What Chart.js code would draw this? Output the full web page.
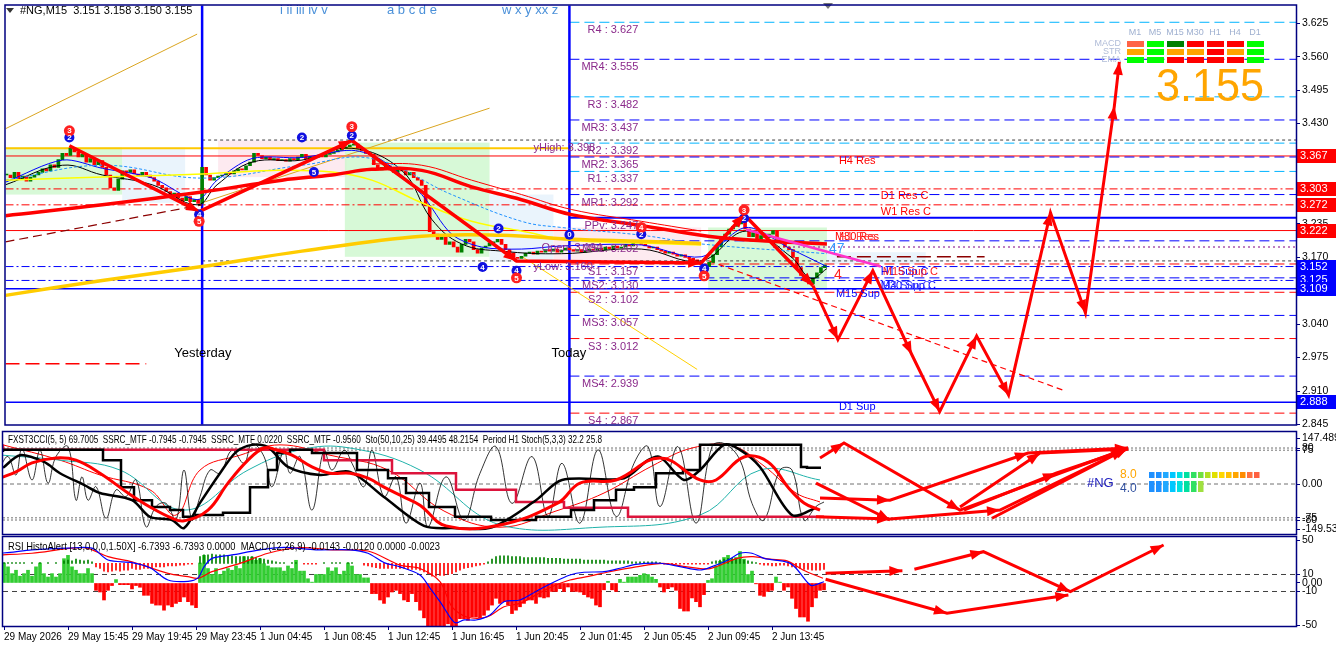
<!DOCTYPE html>
<html>
<head>
<meta charset="utf-8">
<title>#NG,M15</title>
<script src="https://cdn.jsdelivr.net/npm/chart.js@4.4.1/dist/chart.umd.min.js"></script>
<style>
  html, body { margin:0; padding:0; background:#fff; }
  body { width:1336px; height:653px; position:relative; overflow:hidden; }
  canvas { position:absolute; left:0; }
</style>
</head>
<body>
<canvas id="priceChart" width="1336" height="430" style="top:0"></canvas>
<canvas id="cciChart" width="1336" height="106" style="top:430px"></canvas>
<canvas id="rsiChart" width="1336" height="118" style="top:535px"></canvas>
<script>
// ---------- values (bar index = 15 min candle) ----------
const closes = [
  3.330,3.325,3.335,3.322,3.328,3.318,3.326,3.330,
  3.335,3.342,3.338,3.350,3.345,3.360,3.372,3.368,3.382,
  3.375,3.365,3.370,3.355,3.362,3.350,3.358,3.345,
  3.330,3.305,3.300,3.322,3.338,
  3.335,3.340,3.332,3.328,3.335,3.330,3.325,3.318,3.310,
  3.305,3.298,3.292,3.295,3.285,3.280,3.288,3.278,3.282,3.275,
  3.345,3.330,3.320,3.325,
  3.328,3.330,3.335,3.332,3.338,3.342,3.340,3.348,3.355,
  3.372,3.368,3.362,3.365,3.360,3.362,3.358,3.360,3.357,
  3.362,3.360,3.365,3.370,3.362,3.366,3.364,3.368,3.365,3.370,3.372,3.375,
  3.378,3.382,3.385,3.388,3.390,
  3.382,3.378,3.372,3.370,
  3.350,3.340,3.345,
  3.348,3.340,3.335,3.342,3.338,3.330,3.335,3.325,3.320,
  3.310,3.270,3.220,
  3.215,3.205,3.210,3.195,3.200,3.190,3.180,
  3.195,3.205,3.200,3.185,3.178,
  3.188,3.192,3.198,3.200,3.205,
  3.195,3.185,3.178,3.170,3.168,
  3.172,3.178,3.180,3.176,3.182,3.180,3.185,3.182,3.186,3.180,3.184,3.188,3.185,
  3.182,3.185,3.180,3.183,3.186,3.184,3.188,3.185,3.190,3.187,3.192,3.188,3.190,3.195,3.192,3.198,3.200,
  3.195,3.192,3.188,3.190,3.185,3.182,3.178,3.180,3.176,3.172,3.175,3.170,3.168,3.165,3.160,
  3.155,3.152,3.160,3.175,
  3.190,3.205,3.215,3.225,3.230,3.235,3.240,
  3.225,3.210,3.218,3.205,3.212,3.208,3.215,3.222,3.205,3.198,3.190,3.185,
  3.170,3.150,3.135,3.125,3.118,3.130,
  3.140,3.150,3.155
];

const timeTickBars = [0,16,32,48,64,80,96,112,128,144,160,176,192];
const timeLabels = ['29 May 2026','29 May 15:45','29 May 19:45','29 May 23:45','1 Jun 04:45','1 Jun 08:45',
  '1 Jun 12:45','1 Jun 16:45','1 Jun 20:45','2 Jun 01:45','2 Jun 05:45','2 Jun 09:45','2 Jun 13:45'];
const priceTicks = [3.625,3.560,3.495,3.430,3.365,3.300,3.235,3.170,3.105,3.040,2.975,2.910,2.845];

const pivotNames  = ['R4','MR4','R3','MR3','R2','MR2','R1','MR1','PPv','MS1','S1','MS2','S2','MS3','S3','MS4','S4'];
const pivotValues = [3.627,3.555,3.482,3.437,3.392,3.365,3.337,3.292,3.247,3.202,3.157,3.130,3.102,3.057,3.012,2.939,2.867];

const levelValues = [3.367,3.303,3.272,3.222,3.152,3.125,3.109,2.888];
const levelKinds  = ['red','redDot','redDot','red','blueDot','blueDot','blue','blue'];

const yHighValue = 3.398, yHighGold = 3.382, yLowValue = 3.163;

const zigzagPath   = [[15.75,3.387],[48.25,3.259],[86.5,3.397],[127.75,3.163],[174,3.159],[184.75,3.253],[202,3.115]];
const forecastPath = [[202,3.115],[208.25,3.010],[217,3.144],[226.75,2.981],[233.75,2.870],[243,3.017],
                      [251,2.902],[261.5,3.257],[270.25,3.062],[277.5,3.464],[278.75,3.550]];

const redMa     = [[-0.25,3.251],[24,3.272],[49,3.297],[69,3.320],[81.5,3.330],[91.5,3.341],[104,3.339],[116.5,3.307],
                   [129,3.282],[141.5,3.253],[159,3.232],[175.75,3.211],[191.5,3.201],[205.5,3.196]];
const redMaThin = [[91.5,3.352],[104,3.349],[116.5,3.320],[129,3.292],[141.5,3.263],[159,3.240],[174,3.221]];
const goldMa    = [[-0.25,3.096],[24,3.125],[49,3.152],[74,3.182],[104,3.211],[124,3.213],[141.5,3.205],[159,3.201],[174,3.197]];
const yellowMa  = [[-0.25,3.320],[24,3.326],[49,3.332],[66.5,3.339],[81.5,3.336],[91.5,3.320],[104,3.276],
                   [116.5,3.240],[129,3.221],[141.5,3.203],[159,3.198],[174,3.194]];
const blueMa    = [[-0.25,3.316],[14,3.359],[24,3.343],[36.5,3.324],[47.75,3.282],[52.75,3.320],[61.5,3.362],[74,3.364],
                   [86.5,3.378],[94,3.359],[104,3.292],[111.5,3.215],[119,3.190],[129,3.186],[139,3.192],[159,3.194],
                   [174,3.171],[185.25,3.228],[196.5,3.186],[205.5,3.152]];
const skyMa     = [[-0.25,3.320],[24,3.349],[49,3.324],[74,3.349],[91.5,3.362],[111.5,3.292],[129,3.240],[139,3.228],
                   [159,3.213],[174,3.196],[205.5,3.177]];
const blackMa   = [[-0.25,3.311],[14,3.349],[24,3.330],[36.5,3.311],[47.75,3.272],[52.75,3.311],[61.5,3.355],[74,3.359],
                   [86.5,3.382],[99,3.339],[106.5,3.244],[114,3.196],[124,3.182],[139,3.177],[159,3.186],[174,3.163],
                   [185.25,3.221],[196.5,3.171],[201.5,3.129],[205.5,3.148]];
const orangeTrend1 = [[-0.25,3.420],[47.75,3.604]];
const orangeTrend2 = [[49,3.276],[121,3.460]];
const yellowTrend  = [[129,3.172],[173,2.952]];
const brownTrend   = [[-0.25,3.200],[49,3.272]];
const redChannel   = [[176,3.163],[265.25,2.910]];
const magentaLine  = [[185.25,3.224],[219,3.152]];

const zones = [ // bar from, bar to, price top, price bottom, kind
  [-0.25,29,3.384,3.292,'g'],[29,44.75,3.384,3.276,'b'],[53,85.25,3.397,3.326,'p'],[84.75,121,3.393,3.171,'g'],
  [121,137,3.292,3.161,'b'],[137,174,3.228,3.163,'p'],[175.75,205.5,3.228,3.106,'g'],[205.5,230.25,3.180,3.157,'b']
];

const redMarks  = [[15.75,3.416,'3'],[48.25,3.240,'5'],[86.5,3.424,'3'],[127.75,3.130,'5'],[159,3.228,'4'],
                   [184.75,3.262,'3'],[174.75,3.134,'5']];
const blueMarks = [[15.75,3.403,'2'],[74,3.403,'2'],[86.5,3.407,'2'],[77,3.336,'5'],[48.25,3.253,'4'],[123.25,3.226,'2'],
                   [119.25,3.151,'4'],[127.75,3.144,'4'],[141,3.214,'0'],[159,3.215,'2'],[184.75,3.246,'2'],[174.75,3.148,'4']];
const blueUps   = [[177,3.161],[204.75,3.132]];
const greenUps  = [[145.75,3.177],[149.75,3.157]];

// ---- FXST3CCI / SSRC / Sto panel ----
const cciFast = [[-1,38],[1,61],[3,20],[4.5,79],[7,9],[9,75],[11,2],[13,61],[16,83],[18,-36],[19.5,16],[21,-36],[23,-6],
  [25.5,-76],[28,-13],[30.5,-28],[33,9],[35.5,-95],[38,-50],[40.5,-43],[43,-80],[45,31],[47,-80],[49,-28],[51.5,31],[54,24],
  [57,75],[60,46],[62,90],[65,61],[67,-6],[70,75],[71.5,24],[74,61],[77,-58],[80,75],[82,31],[85,75],[87,46],[90,-6],[92,75],
  [95,-28],[98,16],[100.5,-87],[104,2],[106,-95],[110.5,16],[115,-80],[119,24],[123,83],[127,-43],[132,61],[136,-72],
  [139.5,46],[144,-87],[148.5,76],[153,-72],[157.5,46],[161,83],[164,-50],[168.5,83],[173,-87],[177,83],[180,90],[184,53],
  [187,-43],[190,-80],[194,31],[197,31],[200,-80],[203,-50],[205,-40]];
const cciSlow = [[-0.25,36],[4,64],[10,49],[14,24],[20,-2],[24,-20],[32,-36],[36.5,-73],[42,-80],[45,-98],[49,-42],[54,24],
  [58,71],[62,87],[66,82],[71,38],[79,20],[86.5,27],[95,-29],[105,-93],[112,-98],[122,-96],[133,-36],[139.5,9],[155,13],
  [161,53],[164,60],[170,9],[174,31],[180,87],[184,76],[189,38],[197,-69],[203,-53]];
const cciStep = [[-0.25,71],[24.75,76],[29.25,53],[32.5,-7],[37,-36],[41.5,-51],[44.75,-58],[48,-73],[54.75,-69],[61.5,-64],
  [66,-7],[68.25,31],[71.5,69],[77,76],[88.25,69],[96,31],[100.5,13],[106.25,-20],[112.75,-51],[121.75,-73],[133,-80],
  [141.75,-73],[147.5,-58],[153,-36],[157.5,-13],[163,-7],[169.75,24],[174,31],[180,87],[199.25,87],[200.75,38],[204.25,36]];
const cciRed = [[-1,13],[3,27],[7,47],[13,58],[18,53],[24,24],[31,-20],[36.5,-51],[42,-76],[45,-82],[51,-58],[56,2],[61,53],
  [65,80],[68,76],[72,64],[77,38],[81.5,24],[86.5,24],[91,13],[95,-7],[100,-29],[104,-47],[110.5,-93],[124,-91],[138.5,-42],
  [144,2],[153,9],[164,58],[174,9],[178,9],[185,60],[191,49],[196,-7],[200,-42],[204,-58]];
const cciThinRed = [[-0.25,87],[14,53],[24,20],[36.5,-13],[43,-69],[49,31],[59,64],[69,87],[81.5,64],[96,31],[110,-60],
  [124,-96],[138,-60],[150,-20],[162,40],[172,80],[182,85],[190,40],[198,-20],[204,-40]];
const cciTeal = [[-0.25,64],[14,53],[29,31],[45,-58],[61,31],[74,76],[86.5,80],[104,31],[124,-91],[149,-96],[174,-69],[189,31],[204,9]];
const ssrcSteps = [[-0.25,88],[80,76],[97,53],[113,24],[128,-13],[140,-40],[156,-53],[173,-73],[205,-73]];
const cciUpArrows = [[30.25,-73],[32,-51],[44.75,-76],[47,-51],[58,-58],[122.75,-24],[145.75,-76],[149.75,-64],[154,-18],
  [173,-73],[176,-40],[176,-69],[204.75,-73]];
const cciDownArrows = [[4.75,80],[14.75,76],[20.25,76],[21.5,58],[24.75,58],[50.75,38],[68.5,53],[81,76],[89.75,69],
  [93.25,69],[97,49],[144,71],[163,71],[186.75,31],[200.75,31]];
const cciForecast = [
  [[204,58],[210,91],[239,-58],[281,80]],
  [[203,2],[221.5,-80]],
  [[203,-73],[221.5,-78],[249,-58],[281,80]],
  [[204,-31],[221.5,-36],[256,69],[281,80]],
  [[239,-51],[259,69],[281,78]],
  [[240,-58],[263,24],[281,78]],
  [[247,-76],[280,76]]
];
const cciTickVals = [102,80,75,0,-75,-80,-100];
const cciTickText = ['147.4891','80','75','0.00','-75','-80','-149.530'];

// ---- RSI HistoAlert / MACD panel ----
const histo = [
  23.5,19,11,15,8,11,15,8,19,23.5,11,7,11,7,11,28.6,32.5,19,15,11,11,17,11,
  -8.6,-10.6,-20,-8.6,-3,4,-2,-2,-2,-7,-3,-5,-14.5,-14.5,-24,-26,-26,-32,-26,-28,-24,-22,-16.5,-22,-26,-29,
  23.5,32.5,17,10,17,10,14,17,15,20,17,31,26.7,30.5,26.7,28.6,22.7,20,18,18,18,14,20,17,26.7,14,14,5,1,10,10,10,18,14,18,10,14,23.5,20,10,10,6,6,
  -12.5,-12.5,-20,-24,-16.5,-10.6,-8.6,-12.5,-20,-22,-12.5,-22,
  -32,-41,-52,-52,-52,-52,-52,-48,-52,-52,
  -42,-42,-44,-40,-40,-41,-38,-32,-26,-18,
  -24,-22,-26,-36,-32,-28,-24,-20,-20,-24,
  -16.5,-17.6,-16.5,-10,-10,-6.7,-10,-4.7,-10,-10,
  -10.6,-13.7,-16.5,-18,-26,-28,-8,2,-8,-10,
  4.3,1,7,7,7,9,11,10,7,4.3,
  -4.7,-10.6,-6.7,-4.7,-8.6,-30,-33,-33,-17.6,-22,
  -28,-13.7,3,5,20,25.5,30,32.5,28,30,
  37,28,10,14,-1,-14.5,-15.7,-10,-8.6,7,
  1,-8.6,-4.7,-18,-30,-40,-40,-45,-28,-17.6,
  -8.6,-8
];
const thinBase = 23;
const thinHisto = [
  1,1,1,1,1,1, 0,1,0,1,0,1,0,1,0, 3,4,3,5,4,3,4,2,
  -4,-6,-9,-10,-9,-8,-9,-8,-8,-6,-7,-7,-6,-6,-5,-4,-4,-4,-3,-3,-3,-2,-2,-1,-1, 0,
  8,10,10,11,10,10,10,9,9,8,8,8,8,8,7,6,5,4,3,2,
  1,1,0,1,1,0,-1,-1,-1,-1,0,1,0,1,1,1,0,1,1,0,0,
  -2,-3,-4,-5,-6,-6,-6,-6,-6,-6,-6,-7,-7,-7,
  -8,-10,-12,-15,-15,-14,-14,-13,-12,-10,-8,
  -6,-5,-4,-3,-2,-1,
  2,5,8,9,9,9,8,8,8,7,7,7,7,7,7,6,6,6,6,5,5,5,5,5,4,4,4,4,4,4,
  3,3,3,3,3,3,2,2,2,2,2,2,2,1,
  -1,-1,-1,-1,-1,-1,-1,-1,-1,-1,-1,-1,
  2,3,4,5,6,6,6,5,4,3,2,1,
  -1,-2,-2,-3,-3,-2,-2,-3,-4,-5,-6,-7,-7,-8,-8,-8,-7
];
const rsiBlue = [[-1,35],[1.5,36],[7,39],[16,41],[22,41],[26,27],[32,24],[36.5,18],[41,3.5],[46,2],[48.5,6],[50,19],[52,29],
  [57,33],[64,39],[70,42],[78,39],[86.5,39],[91,35],[95,24],[99,19],[104,9.4],[106.5,-5.9],[109,-22],[112,-43.5],[113,-47],
  [115,-43.5],[118,-43.5],[121.5,-37.6],[125,-22],[129,-20],[133,-10],[137,0],[141.5,9.4],[145,12.6],[150,13.3],[154,17.3],
  [158,22],[164,23.2],[169,19.2],[174,15.3],[177,19.2],[181,27],[184,35],[187,35],[190,29],[196,24.3],[198,17.3],[201,0],
  [202,-3],[205,1.5]];
const rsiRed = [[-1,33],[7,35],[20,41.5],[26,31],[32,25],[41,11.4],[46,7.4],[48.5,5.5],[52,13.3],[59,23],[66,35],[74,41.5],
  [82,39],[91,37.6],[99,21],[104,17],[109,1.5],[112,-28],[115.75,-40],[120.75,-40],[125,-28],[129,-24],[133,-14],[137,-4.4],
  [141.5,3.5],[145.75,7.4],[150.75,12.6],[158,19],[164.75,23],[170.75,19],[176.5,17],[183.25,29],[187.25,31],[191.5,28],
  [195.75,26],[199.75,15.3],[204.75,5.5]];
const rsiForecast = [
  [[205.4,11.4],[224.6,14.5]],
  [[227.6,16.1],[244.85,36.8],[266.6,-10.2],[289.9,44.7]],
  [[205.4,4.4],[235.75,-35.6],[266.1,-14.1]]
];
const rsiTickVals = [50,10,0,-10,-50];
const rsiTickText = ['50','10','0.00','-10','-50'];

// dashboard in the top right corner
const tfNames = ['M1','M5','M15','M30','H1','H4','D1'];
const rowNames = ['MACD','STR','EMA'];
const cellColors = [
  ['#ff6347','#00ff00','#008000','#ff0000','#ff0000','#ff0000','#00ff00'],
  ['#ffa500','#00ff00','#ffa500','#ffa500','#ff0000','#ffa500','#00ff00'],
  ['#00ff00','#00ff00','#ff0000','#ff0000','#ff0000','#ff0000','#00ff00']
];
const lastPrice = '3.155';

// ---------- helpers ----------
Chart.defaults.font.family = "'Liberation Sans', Arial, sans-serif";
Chart.defaults.font.size = 11;
Chart.defaults.color = '#000';
const FONT = "'Liberation Sans', Arial, sans-serif";
const NAVY = '#000080';

function lineDs(pts, color, width, extra) {
  return Object.assign({
    type: 'line', data: pts.map(p => ({ x: p[0], y: p[1] })), borderColor: color, borderWidth: width,
    pointRadius: 0, fill: false, tension: 0, order: 10
  }, extra || {});
}
function hLine(v, from, to, color, width, dash, order) {
  return lineDs([[from, v], [to, v]], color, width, { borderDash: dash || [], order: order || 30 });
}
// stop Chart.js from shrinking the plot to make room for the edge labels
function noEdgePadding(s) { s.paddingTop = 0; s.paddingBottom = 0; s.paddingLeft = 0; s.paddingRight = 0; }
function xAxis(show) {
  return {
    type: 'linear', min: -0.25, max: 323, display: show, offset: false,
    afterFit: s => { if (show) s.height = 26; noEdgePadding(s); },
    afterBuildTicks: s => { s.ticks = timeTickBars.map(v => ({ value: v })); },
    grid: { drawOnChartArea: false, tickLength: 4, color: NAVY, offset: false }, border: { color: NAVY },
    ticks: { autoSkip: false, maxRotation: 0, align: 'start', padding: 1, color: '#000', font: { size: 10 },
             callback: (v, i) => timeLabels[i] }
  };
}
function yAxis(min, max, vals, texts) {
  return {
    position: 'right', min: min, max: max,
    afterFit: s => { s.width = 40; noEdgePadding(s); },
    afterBuildTicks: s => { s.ticks = vals.map(v => ({ value: v })); },
    grid: { drawOnChartArea: false, tickLength: 4, color: NAVY }, border: { color: NAVY },
    ticks: { autoSkip: false, padding: 2, color: '#000', font: { size: 10.5 }, callback: (v, i) => texts ? texts[i] : v.toFixed(3) }
  };
}
function arrowImg(color, up) {
  const c = document.createElement('canvas');
  c.width = 9; c.height = 13;
  const g = c.getContext('2d');
  g.fillStyle = color; g.strokeStyle = color; g.lineWidth = 2;
  g.beginPath();
  if (up) { g.moveTo(4.5, 0); g.lineTo(9, 6); g.lineTo(0, 6); } else { g.moveTo(4.5, 13); g.lineTo(9, 7); g.lineTo(0, 7); }
  g.closePath(); g.fill();
  g.beginPath(); g.moveTo(4.5, up ? 5 : 1); g.lineTo(4.5, up ? 13 : 8); g.stroke();
  return c;
}
function drawHead(ctx, a, b, color, len) {
  const ang = Math.atan2(b.y - a.y, b.x - a.x);
  ctx.fillStyle = color;
  ctx.beginPath();
  ctx.moveTo(b.x, b.y);
  ctx.lineTo(b.x - len * Math.cos(ang) + 5 * Math.sin(ang), b.y - len * Math.sin(ang) - 5 * Math.cos(ang));
  ctx.lineTo(b.x - len * Math.cos(ang) - 5 * Math.sin(ang), b.y - len * Math.sin(ang) + 5 * Math.cos(ang));
  ctx.closePath(); ctx.fill();
}
function fitText(ctx, text, x, y, maxW) {
  const w = ctx.measureText(text).width;
  if (w > maxW) { ctx.save(); ctx.translate(x, y); ctx.scale(maxW / w, 1); ctx.fillText(text, 0, 0); ctx.restore(); }
  else ctx.fillText(text, x, y);
}
function text(ctx, s, x, y, color, size, align, weight) {
  ctx.font = (weight || '') + ' ' + size + 'px ' + FONT;
  ctx.fillStyle = color; ctx.textAlign = align || 'left'; ctx.textBaseline = 'middle';
  ctx.fillText(s, x, y);
}

const arrowPlugin = {
  id: 'arrowHeads',
  afterDatasetsDraw(chart) {
    const ctx = chart.ctx, a = chart.chartArea;
    ctx.save(); ctx.beginPath(); ctx.rect(a.left, a.top, a.width, a.height); ctx.clip();
    chart.data.datasets.forEach((ds, i) => {
      if (!ds.arrowHeads) return;
      const pts = chart.getDatasetMeta(i).data;
      for (let j = 1; j < pts.length; j++) drawHead(ctx, pts[j - 1], pts[j], ds.borderColor, 13);
    });
    ctx.restore();
  }
};
const framePlugin = {
  id: 'frame',
  afterDraw(chart) {
    const ctx = chart.ctx, a = chart.chartArea;
    ctx.save(); ctx.strokeStyle = NAVY; ctx.lineWidth = 1.5;
    ctx.strokeRect(a.left - 0.5, a.top - 0.5, a.width + 1, a.height + 1);
    ctx.restore();
  }
};

function baseOptions(yScale, showX, padding) {
  return {
    responsive: false, animation: false, devicePixelRatio: 1,
    layout: { padding: padding },
    plugins: { legend: { display: false }, tooltip: { enabled: false } },
    scales: { x: xAxis(showX), y: yScale }
  };
}

// ---------- price panel ----------
const zoneColors = { g: 'rgba(208,248,208,0.85)', b: 'rgba(232,243,252,0.9)', p: 'rgba(253,232,238,0.9)' };
const levelStyle = {
  red: ['#ff0000', 1, []], redDot: ['#ff0000', 1, [8, 3, 2, 3]],
  blue: ['#0000ff', 1.5, []], blueDot: ['#0000ff', 1, [8, 3, 2, 3]]
};
const priceSets = [];
const opens = closes.map((c, i) => i === 0 ? closes[0] : closes[i - 1]);
priceSets.push({
  type: 'bar', data: closes.map((c, i) => ({ x: i, y: [opens[i], c] })),
  backgroundColor: closes.map((c, i) => c >= opens[i] ? '#008000' : '#ff0000'),
  barThickness: 3, minBarLength: 1, grouped: false, order: 15
});
pivotNames.forEach((n, i) => {
  const v = pivotValues[i];
  if (n === 'PPv') priceSets.push(hLine(v, 141, 323, '#0000ff', 2, [], 31));
  else if (n[0] === 'R') priceSets.push(hLine(v, 141, 323, '#00b4ff', 1, [10, 5]));
  else if (n[0] === 'S') priceSets.push(hLine(v, 141, 323, '#ff0000', 1, [10, 5]));
  else priceSets.push(hLine(v, 141, 323, '#0000ff', 1, [10, 5]));
});
levelValues.forEach((v, i) => {
  const s = levelStyle[levelKinds[i]];
  priceSets.push(hLine(v, -0.25, 323, s[0], s[1], s[2]));
});
priceSets.push(hLine(yHighValue, 49, 323, '#404040', 1, [3, 3]));
priceSets.push(hLine(yLowValue, 49, 323, '#404040', 1, [3, 3]));
priceSets.push(hLine(yHighGold, -0.25, 141.5, '#ffc800', 2, []));
priceSets.push(hLine(3.190, 192, 323, '#800080', 1, [2, 3]));
priceSets.push(hLine(3.171, 208, 245, '#8b0000', 1.5, [14, 6]));
priceSets.push(hLine(2.963, -0.25, 35, '#ff0000', 1.5, [14, 6]));
priceSets.push(lineDs([[49, 2.80], [49, 3.70]], '#0000ff', 2.5, { order: 29 }));
priceSets.push(lineDs([[141, 2.80], [141, 3.70]], '#0000ff', 2.5, { order: 29 }));
priceSets.push(lineDs(orangeTrend1, '#daa520', 1, { order: 25 }));
priceSets.push(lineDs(orangeTrend2, '#daa520', 1, { order: 25 }));
priceSets.push(lineDs(yellowTrend, '#ffd000', 1, { order: 25 }));
priceSets.push(lineDs(brownTrend, '#8b0000', 1.2, { borderDash: [9, 5], order: 25 }));
priceSets.push(lineDs(redChannel, '#ff0000', 1.2, { borderDash: [6, 4], order: 25 }));
priceSets.push(lineDs(goldMa, '#ffcc00', 3.5, { tension: 0.4, order: 12 }));
priceSets.push(lineDs(yellowMa, '#ffff00', 1.5, { tension: 0.4, order: 12 }));
priceSets.push(lineDs(skyMa, '#1e90ff', 1, { tension: 0.4, borderDash: [3, 2], order: 12 }));
priceSets.push(lineDs(blackMa, '#000000', 1, { tension: 0.4, order: 12 }));
priceSets.push(lineDs(blueMa, '#0000ff', 1, { tension: 0.3, order: 12 }));
priceSets.push(lineDs(redMaThin, '#ff0000', 1, { tension: 0.4, order: 11 }));
priceSets.push(lineDs(redMa, '#ff0000', 3.5, { tension: 0.4, order: 11 }));
priceSets.push(lineDs(magentaLine, '#ff33cc', 2.5, { order: 6 }));
priceSets.push(lineDs(zigzagPath, '#ff0000', 3.5, { arrowHeads: true, order: 3 }));
priceSets.push(lineDs(forecastPath, '#ff0000', 3, { arrowHeads: true, order: 3 }));
priceSets.push(lineDs(redMarks, '#ff0000', 0, { showLine: false, pointRadius: 5.5, pointBackgroundColor: '#ff2020', pointBorderWidth: 0, order: 1, marks: redMarks }));
priceSets.push(lineDs(blueMarks, '#0000ff', 0, { showLine: false, pointRadius: 5, pointBackgroundColor: '#1010e0', pointBorderWidth: 0, order: 1, marks: blueMarks }));
priceSets.push(lineDs(blueUps, '#0000ff', 0, { showLine: false, pointStyle: arrowImg('#1e40ff', true), order: 1 }));
priceSets.push(lineDs(greenUps, '#008000', 0, { showLine: false, pointStyle: arrowImg('#008000', true), order: 1 }));

const priceDeco = {
  id: 'priceDeco',
  beforeDatasetsDraw(chart) {
    const { ctx, chartArea: a, scales: { x, y } } = chart;
    ctx.save(); ctx.beginPath(); ctx.rect(a.left, a.top, a.width, a.height); ctx.clip();
    zones.forEach(z => {
      const x0 = x.getPixelForValue(z[0]), x1 = x.getPixelForValue(z[1]);
      const y0 = y.getPixelForValue(z[2]), y1 = y.getPixelForValue(z[3]);
      ctx.fillStyle = zoneColors[z[4]];
      ctx.fillRect(x0, y0, x1 - x0, y1 - y0);
    });
    ctx.restore();
  },
  afterDatasetsDraw(chart) {
    const { ctx, chartArea: a, scales: { x, y } } = chart;
    const X = v => x.getPixelForValue(v), Y = v => y.getPixelForValue(v);
    ctx.save();
    // numbers in the swing markers
    chart.data.datasets.forEach((ds, i) => {
      if (!ds.marks) return;
      chart.getDatasetMeta(i).data.forEach((p, j) => text(ctx, ds.marks[j][2], p.x, p.y + 0.5, '#fff', 8, 'center', 'bold'));
    });
    // pivot labels
    pivotNames.forEach((n, i) => {
      const s = n + (n.length < 3 ? ' : ' : ': ') + pivotValues[i].toFixed(3);
      text(ctx, s, X(158.25), Y(pivotValues[i]) + 8, '#8b2a8b', 11, 'right');
    });
    text(ctx, 'yHigh: 3.398', X(132), Y(3.382), '#8b2a8b', 11, 'left');
    text(ctx, 'Open: 3.194', X(134), Y(3.188), '#8b2a8b', 11, 'left');
    text(ctx, 'yLow: 3.160', X(132), Y(3.152), '#8b2a8b', 11, 'left');
    // support / resistance tags
    text(ctx, 'H4 Res', X(208.5), Y(3.357), '#ff0000', 11);
    text(ctx, 'D1 Res C', X(219), Y(3.290), '#ff0000', 11);
    text(ctx, 'W1 Res C', X(219), Y(3.259), '#ff0000', 11);
    text(ctx, 'M30 Res', X(207.5), Y(3.209), '#ff0000', 11);
    text(ctx, 'H1 Res', X(208.5), Y(3.209), '#ff4040', 11);
    text(ctx, '47', X(206), Y(3.186), '#3399ff', 14);
    text(ctx, '4', X(207.25), Y(3.136), '#ff2020', 14);
    text(ctx, 'H1 Sup C', X(219), Y(3.142), '#0000ff', 11);
    text(ctx, 'M15 Sup C', X(219.5), Y(3.142), '#ff2020', 11);
    text(ctx, 'M30 Sup C', X(219), Y(3.115), '#0000ff', 11);
    text(ctx, 'H4 Sup C', X(219.5), Y(3.115), '#4040ff', 11);
    text(ctx, 'M15 Sup', X(207.75), Y(3.098), '#0000ff', 11);
    text(ctx, 'D1 Sup', X(208.5), Y(2.879), '#0000ff', 11);
    text(ctx, 'Yesterday', X(42), Y(2.983), '#000', 13);
    text(ctx, 'Today', X(136.5), Y(2.983), '#000', 13);
    ctx.restore();
  },
  afterDraw(chart) {
    const { ctx, chartArea: a, scales: { y } } = chart;
    ctx.save();
    // price badges on the right axis
    levelValues.forEach((v, i) => {
      const py = Math.round(y.getPixelForValue(v));
      ctx.fillStyle = i < 4 ? '#ff0000' : '#0000ff';
      ctx.fillRect(a.right + 1, py - 7, 39, 14);
      text(ctx, v.toFixed(3), a.right + 4, py, '#fff', 11, 'left');
    });
    // title and wave labels
    ctx.fillStyle = '#333';
    ctx.beginPath(); ctx.moveTo(6, 8); ctx.lineTo(14, 8); ctx.lineTo(10, 13); ctx.closePath(); ctx.fill();
    text(ctx, '#NG,M15  3.151 3.158 3.150 3.155', 20, 11, '#000', 11);
    text(ctx, 'i ii iii iv v', 280, 10, '#4a90d9', 13);
    text(ctx, 'a b c d e', 387, 10, '#4a90d9', 13);
    text(ctx, 'w x y xx z', 502, 10, '#4a90d9', 13);
    ctx.fillStyle = '#777';
    ctx.beginPath(); ctx.moveTo(823, 3); ctx.lineTo(833, 3); ctx.lineTo(828, 9); ctx.closePath(); ctx.fill();
    // multi time frame table
    tfNames.forEach((n, k) => text(ctx, n, 1135 + k * 20, 33, '#9fb0d0', 9, 'center'));
    rowNames.forEach((r, j) => {
      text(ctx, r, 1121, 44 + j * 8, '#b0bcd8', 9, 'right');
      cellColors[j].forEach((c, k) => { ctx.fillStyle = c; ctx.fillRect(1127 + k * 20, 41 + j * 8, 17, 6); });
    });
    ctx.font = '46px ' + FONT; ctx.fillStyle = '#ffa500'; ctx.textAlign = 'left'; ctx.textBaseline = 'alphabetic';
    fitText(ctx, lastPrice, 1156, 101, 108);
    ctx.restore();
  }
};

new Chart(document.getElementById('priceChart'), {
  type: 'line',
  data: { datasets: priceSets },
  options: baseOptions(yAxis(2.8449, 3.6596, priceTicks, null), false, { left: 3, top: 3, bottom: 2, right: 0 }),
  plugins: [priceDeco, arrowPlugin, framePlugin]
});

// ---------- CCI panel ----------
const cciSets = [];
[80, 75, -75, -80].forEach(v => cciSets.push(hLine(v, -0.25, 323, '#a0a0a0', 1.5, [2, 2])));
cciSets.push(hLine(0, -0.25, 323, '#707070', 1, [4, 3]));
cciSets.push(lineDs(cciTeal, '#20b2aa', 1, { tension: 0.4, order: 14 }));
cciSets.push(lineDs(cciThinRed, '#ff0000', 1, { tension: 0.4, order: 14 }));
cciSets.push(lineDs(cciFast, '#000000', 0.8, { tension: 0.4, order: 13 }));
cciSets.push(lineDs(ssrcSteps, '#dc143c', 2.5, { stepped: 'after', order: 12 }));
cciSets.push(lineDs(cciStep, '#000000', 2.5, { stepped: 'after', order: 11 }));
cciSets.push(lineDs(cciSlow, '#000000', 2.5, { tension: 0.3, order: 11 }));
cciSets.push(lineDs(cciRed, '#ff0000', 3, { tension: 0.4, order: 10 }));
cciSets.push(lineDs(cciUpArrows, '#0000ff', 0, { showLine: false, pointStyle: arrowImg('#1e40ff', true), order: 2 }));
cciSets.push(lineDs(cciDownArrows, '#ff0000', 0, { showLine: false, pointStyle: arrowImg('#ff3030', false), order: 2 }));
cciForecast.forEach(p => cciSets.push(lineDs(p, '#ff0000', 3, { arrowHeads: true, order: 1 })));

const gradTop = ['#1e90ff','#1e90ff','#20a8ff','#00c8ff','#00e0e0','#00e0a0','#30e060','#70e040','#b0e020','#e0e000',
                 '#ffd700','#ffc000','#ffa500','#ff8c00','#ff7040','#ff6040'];
const gradLow = ['#1e90ff','#1e90ff','#20a8ff','#00c8ff','#00e0e0','#00e0a0','#30e060','#a0e040'];
const cciDeco = {
  id: 'cciDeco',
  afterDraw(chart) {
    const ctx = chart.ctx;
    ctx.save();
    ctx.font = '11px ' + FONT; ctx.fillStyle = '#000'; ctx.textAlign = 'left'; ctx.textBaseline = 'middle';
    fitText(ctx, 'FXST3CCI(5, 5) 69.7005  SSRC_MTF -0.7945 -0.7945  SSRC_MTF 0.0220  SSRC_MTF -0.9560  Sto(50,10,25) 39.4495 48.2154  Period H1 Stoch(5,3,3) 32.2 25.8', 8, 10, 594);
    text(ctx, '#NG', 1087, 53, '#2020c0', 13);
    text(ctx, '8.0', 1120, 45, '#ffa500', 12);
    text(ctx, '4.0', 1120, 59, '#3050a0', 12);
    gradTop.forEach((c, k) => { ctx.fillStyle = c; ctx.fillRect(1149 + k * 7, 42, 5.5, 6); });
    gradLow.forEach((c, k) => { ctx.fillStyle = c; ctx.fillRect(1149 + k * 7, 51, 5.5, 11); });
    ctx.restore();
  }
};
new Chart(document.getElementById('cciChart'), {
  type: 'line',
  data: { datasets: cciSets },
  options: baseOptions(yAxis(-111.1, 115.6, cciTickVals, cciTickText), false, { left: 3, top: 2, bottom: 2, right: 0 }),
  plugins: [cciDeco, arrowPlugin, framePlugin]
});

// ---------- RSI / MACD panel ----------
const rsiSets = [];
rsiSets.push(hLine(10, -0.25, 323, '#404040', 1, [5, 4], 40));
rsiSets.push(hLine(-10, -0.25, 323, '#404040', 1, [5, 4], 40));
rsiSets.push({
  type: 'bar', data: histo.map((v, i) => ({ x: i, y: v })),
  backgroundColor: histo.map(v => v >= 0 ? '#32cd32' : '#ff0000'),
  barThickness: 3, grouped: false, order: 20
});
rsiSets.push({
  type: 'bar', data: thinHisto.map((v, i) => ({ x: i, y: v === 0 ? null : [thinBase, thinBase + v] })),
  backgroundColor: thinHisto.map(v => v >= 0 ? '#008000' : '#ff0000'),
  barThickness: 1, grouped: false, order: 19
});
rsiSets.push(lineDs(rsiRed, '#ff0000', 1.2, { tension: 0.3, order: 5 }));
rsiSets.push(lineDs(rsiBlue, '#0000ff', 1.2, { tension: 0.3, order: 4 }));
rsiForecast.forEach(p => rsiSets.push(lineDs(p, '#ff0000', 3, { arrowHeads: true, order: 1 })));
const rsiDeco = {
  id: 'rsiDeco',
  afterDraw(chart) {
    const ctx = chart.ctx;
    ctx.save();
    ctx.font = '11px ' + FONT; ctx.fillStyle = '#000'; ctx.textAlign = 'left'; ctx.textBaseline = 'middle';
    fitText(ctx, 'RSI HistoAlert [13,0,0,0,1.50X] -6.7393 -6.7393 0.0000  MACD(12,26,9) -0.0143 -0.0120 0.0000 -0.0023', 8, 12, 432);
    ctx.restore();
  }
};
new Chart(document.getElementById('rsiChart'), {
  type: 'line',
  data: { datasets: rsiSets },
  options: baseOptions(yAxis(-50.6, 54.1, rsiTickVals, rsiTickText), true, { left: 3, top: 2, bottom: 1, right: 0 }),
  plugins: [rsiDeco, arrowPlugin, framePlugin]
});
</script>
</body>
</html>
